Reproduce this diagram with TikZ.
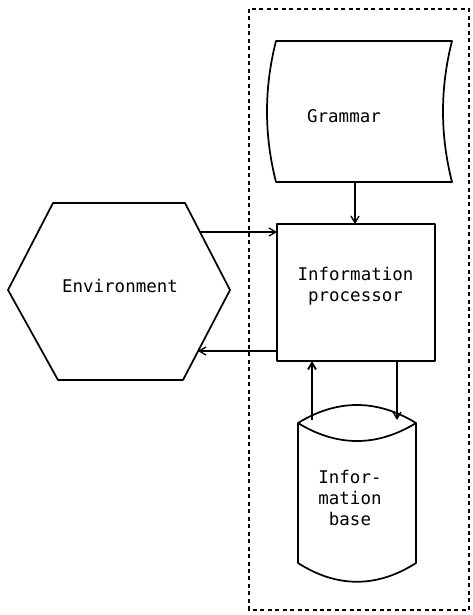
\documentclass[tikz,border=0pt]{standalone}
\usepackage{fontspec}
\setmonofont{DejaVu Sans Mono}
\usetikzlibrary{arrows.meta}
\begin{document}
\begin{tikzpicture}[x=0.75pt,y=-0.75pt,
  outline/.style={line width=1.3pt, line join=round},
  link/.style={line width=1pt, -{Straight Barb[length=5pt,width=6pt]}},
  lbl/.style={font=\ttfamily\fontsize{13.1}{15.4}\selectfont, align=center, inner sep=0pt}]
\useasboundingbox (0,0) rectangle (472,615);

% system boundary
\draw[line width=1.1pt, dash pattern=on 3pt off 2.6pt] (249,9) rectangle (469,610);

% grammar (stored data symbol)
\draw[outline] (276,41) -- (452,41)
  .. controls (440,88) and (440,135) .. (452,182) -- (276,182)
  .. controls (264,135) and (264,88) .. (276,41) -- cycle;
\node[lbl] (gram) at (344,116) {Grammar};
\coordinate (gramB) at (355,182);

% information processor
\node[draw, outline, outer sep=0pt, minimum width=118.5pt, minimum height=102.75pt] (proc) at (356,292.5) {};
\node[lbl] (procText) at (355.5,286) {Information\\processor};

% environment
\draw[outline] (53,203) -- (185,203) -- (230,290) -- (183,380) -- (58,380) -- (8,290) -- cycle;
\node[lbl] (env) at (120,286) {Environment};
\coordinate (envA) at (200,232);
\coordinate (envB) at (198,351);

% information base (cylinder)
\draw[outline] (298,423) .. controls (337,399) and (377,399) .. (416,423) -- (416,563)
  .. controls (377,588) and (337,588) .. (298,563) -- cycle;
\draw[outline] (298,423) .. controls (337,447) and (377,447) .. (416,423);
\node[lbl] (base) at (350,498) {Infor-\\mation\\base};
\coordinate (baseL) at (312,420);
\coordinate (baseR) at (397,420);

% flows
\draw[link] (gramB) -- (gramB |- proc.north);
\draw[link] (envA) -- (envA -| proc.west);
\draw[link] (envB -| proc.west) -- (envB);
\draw[link, line width=1.4pt] (baseL) -- (baseL |- proc.south);
\draw[link] (baseR |- proc.south) -- (baseR);
\end{tikzpicture}
\end{document}
